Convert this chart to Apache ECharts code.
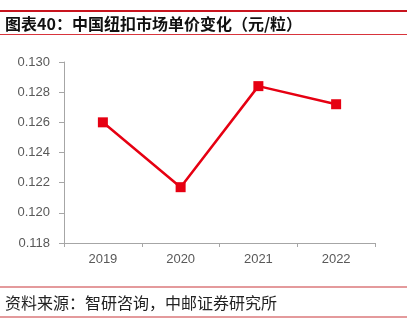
<!DOCTYPE html>
<html>
<head>
<meta charset="utf-8">
<style>
  html, body { margin: 0; padding: 0; background: #ffffff; }
  #chart { width: 407px; height: 324px; }
</style>
<script src="https://cdn.jsdelivr.net/npm/echarts@6/dist/echarts.min.js"></script>
</head>
<body>
<div id="chart"></div>
<script>
// Unit price of buttons in China, yuan per piece
const years = ['2019', '2020', '2021', '2022'];
const unitPrice = [0.1260, 0.1217, 0.1284, 0.1272];
const yTicks = { min: 0.118, max: 0.130, step: 0.002 };

const titleText = '图表40：中国纽扣市场单价变化（元/粒）';
const sourceText = '资料来源：智研咨询，中邮证券研究所';

const RED = '#e60012';
const AXIS = '#a6a6a6';
const LABEL = '#595959';
const cjk = '"Noto Sans CJK SC", "Noto Sans", sans-serif';
const latin = '"Liberation Sans", Arial, sans-serif';

const chart = echarts.init(document.getElementById('chart'), null, { renderer: 'canvas' });

chart.setOption({
  backgroundColor: '#ffffff',
  animation: false,
  grid: { left: 64, right: 32, top: 62, bottom: 81 },
  graphic: [
    { type: 'rect', shape: { x: 0, y: 10, width: 407, height: 2 }, style: { fill: '#c8141e' } },
    { type: 'rect', shape: { x: 0, y: 34, width: 407, height: 1 }, style: { fill: '#d8343c' } },
    {
      type: 'text', left: 5, top: 16,
      style: { text: titleText, font: 'bold 16px ' + cjk, fill: '#111111' }
    },
    { type: 'rect', shape: { x: 0, y: 286, width: 407, height: 2 }, style: { fill: '#e49a9c' } },
    { type: 'rect', shape: { x: 0, y: 316, width: 407, height: 2 }, style: { fill: '#e49a9c' } },
    {
      type: 'text', left: 5, top: 295,
      style: { text: sourceText, font: 'normal 16px ' + cjk, fill: '#222222' }
    }
  ],
  xAxis: {
    type: 'category',
    data: years,
    boundaryGap: true,
    axisLine: { lineStyle: { color: AXIS, width: 1 } },
    axisTick: { show: true, length: 4, lineStyle: { color: AXIS } },
    axisLabel: { color: LABEL, fontSize: 13, fontFamily: latin, margin: 10 },
    splitLine: { show: false }
  },
  yAxis: {
    type: 'value',
    min: yTicks.min,
    max: yTicks.max,
    interval: yTicks.step,
    axisLine: { show: true, lineStyle: { color: AXIS, width: 1 } },
    axisTick: { show: true, length: 5, lineStyle: { color: AXIS } },
    axisLabel: {
      color: LABEL, fontSize: 13, fontFamily: latin, margin: 14,
      formatter: v => v.toFixed(3)
    },
    splitLine: { show: false }
  },
  series: [{
    type: 'line',
    data: unitPrice,
    symbol: 'rect',
    symbolSize: 10,
    lineStyle: { color: RED, width: 2.5 },
    itemStyle: { color: RED },
    z: 3
  }]
});
</script>
</body>
</html>
